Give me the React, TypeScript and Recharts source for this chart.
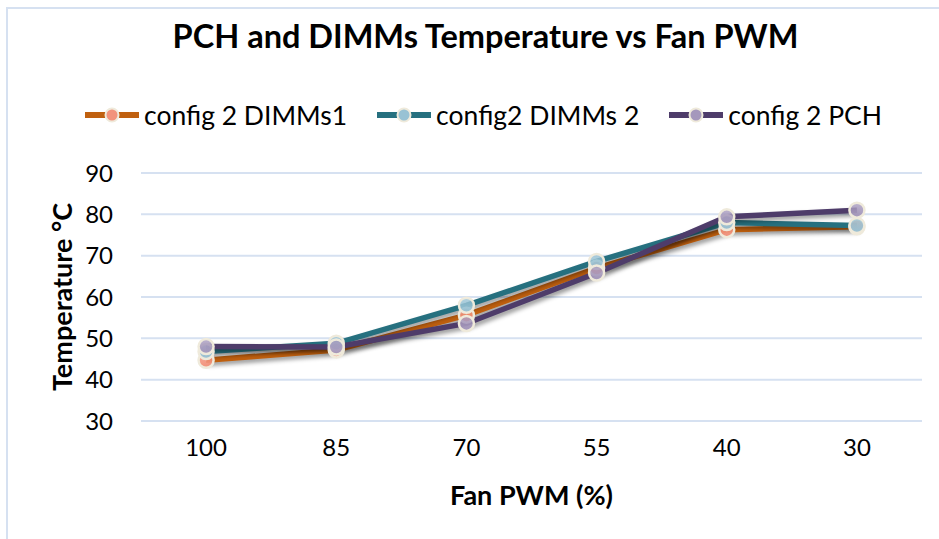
import React from 'react';
import { LineChart, Line, XAxis, YAxis, CartesianGrid } from 'recharts';

const categories = ['100', '85', '70', '55', '40', '30'];
const dimms1 = [44.7, 47.2, 55.6, 67, 76.3, 77];
const dimms2 = [46.8, 48.8, 58, 68.6, 78, 77.3];
const pch = [48, 47.9, 53.6, 65.8, 79.4, 81];
const yTicks = [30, 40, 50, 60, 70, 80, 90];

const seriesNames = ['config 2 DIMMs1', 'config2 DIMMs 2', 'config 2 PCH'];
const seriesKeys = ['d1', 'd2', 'pch'];
const lineColors = ['#C0600F', '#26707F', '#4E3C6A'];
const dotColors = ['#F2937C', '#98C2D4', '#A598BC'];

const data = categories.map((c, i) => ({ x: i, d1: dimms1[i], d2: dimms2[i], pch: pch[i] }));
const labelTicks = categories.map((_, i) => i);
const boundaryTicks = [-0.5, 0.5, 1.5, 2.5, 3.5, 4.5, 5.5];

const FONT = 'Lato, "Open Sans", sans-serif';

const makeDot = (idx: number) => (props: any) => {
  const { cx, cy, key } = props;
  if (cx == null || cy == null) return null;
  return (
    <g key={key}>
      <circle cx={cx} cy={cy} r={7.5} fill={`url(#dotgrad${idx})`} stroke="#EFEADB" strokeWidth={2.5} />
    </g>
  );
};

const YTitle = (props: any) => {
  const vb = props.viewBox || {};
  const cy = vb.y + vb.height / 2;
  return (
    <text x={61} y={cy} transform={`rotate(-90, 61, ${cy})`} textAnchor="middle" dominantBaseline="central"
      fontFamily={FONT} fontWeight={700} fontSize={27} fill="#000">Temperature °C</text>
  );
};

const XTitle = (props: any) => {
  const vb = props.viewBox || {};
  const cx = vb.x + vb.width / 2;
  return (
    <text x={cx} y={494} textAnchor="middle" dominantBaseline="central"
      fontFamily={FONT} fontWeight={700} fontSize={27} fill="#000">Fan PWM (%)</text>
  );
};

export default function App() {
  return (
    <div style={{ position: 'absolute', left: 0, top: 0, width: 939, height: 539, background: '#fff', overflow: 'hidden' }}>
      <style>{`.shadowLine .recharts-line-curve { filter: drop-shadow(2px 3px 2px rgba(0,0,0,0.4)); }`}</style>
      <div style={{ position: 'absolute', left: 6, top: 7, width: 1000, height: 600, borderLeft: '2px solid #D6E1F1', borderTop: '2px solid #D6E1F1' }} />
      <div style={{ position: 'absolute', left: 16, width: 939, top: 15, textAlign: 'center', fontFamily: FONT, fontWeight: 700, fontSize: 32.5, color: '#000', lineHeight: '42px' }}>
        PCH and DIMMs Temperature vs Fan PWM
      </div>
      <div style={{ position: 'absolute', left: 13, width: 939, top: 99, display: 'flex', justifyContent: 'center', fontFamily: FONT, fontSize: 26.5, color: '#000', lineHeight: '32px' }}>
        {seriesNames.map((n, i) => (
          <div key={n} style={{ display: 'flex', alignItems: 'center', marginLeft: i === 0 ? 0 : 28 }}>
            <svg width={58} height={22} style={{ marginRight: 3 }}>
              <line x1={2} y1={11} x2={56} y2={11} stroke={lineColors[i]} strokeWidth={6} />
              <circle cx={29} cy={11} r={6.5} fill={dotColors[i]} stroke="#EFEADB" strokeWidth={2} />
            </svg>
            <span>{n}</span>
          </div>
        ))}
      </div>
      <div style={{ position: 'absolute', left: 0, top: 0 }}>
        <LineChart width={939} height={539} data={data} margin={{ top: 173, right: 17, bottom: 0, left: 0 }}>
          <defs>
            {dotColors.map((c, i) => (
              <linearGradient key={i} id={`dotgrad${i}`} x1="0" y1="0" x2="0" y2="1">
                <stop offset="0%" stopColor={c} stopOpacity={0.75} />
                <stop offset="100%" stopColor={c} stopOpacity={1} />
              </linearGradient>
            ))}
          </defs>
          <CartesianGrid vertical={false} stroke="#D6E1F1" strokeWidth={2} horizontalValues={yTicks} />
          <XAxis xAxisId="b" dataKey="x" type="number" domain={[-0.5, 5.5]} ticks={boundaryTicks} height={0}
            tick={false} tickLine={{ stroke: '#D6E1F1', strokeWidth: 2 }} tickSize={9} axisLine={{ stroke: '#D6E1F1', strokeWidth: 2 }} allowDataOverflow />
          <XAxis xAxisId="l" dataKey="x" type="number" domain={[-0.5, 5.5]} ticks={labelTicks} height={118}
            tickFormatter={(v: number) => categories[v] ?? ''} axisLine={false} tickLine={false} tickSize={0} tickMargin={18}
            tick={{ fontFamily: FONT, fontSize: 24, fill: '#000' }} interval={0} allowDataOverflow label={<XTitle />} />
          <YAxis domain={[30, 90]} ticks={yTicks} width={141} axisLine={false} tickLine={false} tickSize={0} tickMargin={28}
            tick={{ fontFamily: FONT, fontSize: 24, fill: '#000' }} interval={0} label={<YTitle />} />
          {seriesKeys.map((k, i) => (
            <Line key={k} xAxisId="l" dataKey={k} name={seriesNames[i]} type="linear" stroke={lineColors[i]} strokeWidth={5.5}
              className="shadowLine" dot={makeDot(i)} activeDot={false} isAnimationActive={false} />
          ))}
        </LineChart>
      </div>
    </div>
  );
}
